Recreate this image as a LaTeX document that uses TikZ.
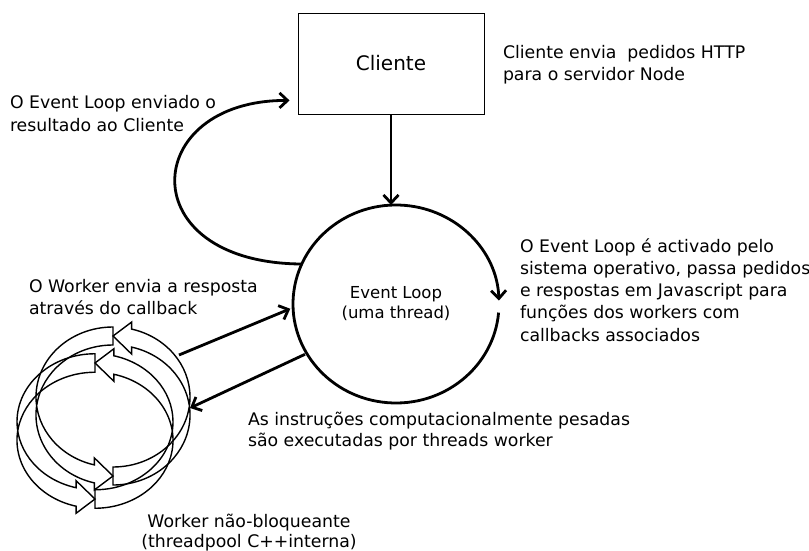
\documentclass[tikz,border=0pt]{standalone}
\usepackage{fontspec}
\setmainfont{DejaVu Sans}
\usetikzlibrary{arrows.meta,shapes.geometric,calc}

% one worker ring: two ribbon arrows running round an ellipse
% #1,#2 centre; #3,#4 radii; #5 ribbon height
\newcommand{\workerring}[5]{%
  \begin{scope}[shift={(#1,#2)}]
    \pgfmathsetmacro\hh{#5/2}
    \pgfmathsetmacro\hx{#3*cos(76)}
    \pgfmathsetmacro\hy{#4*sin(76)}
    % rising half on the right, head at the top
    \draw[ribbon] (0,\hh-#4)
      arc[start angle=-90,end angle=76,x radius=#3,y radius=#4]
      -- ++(0,7) -- (0,#4) -- (\hx,\hy-\hh-7) -- ++(0,7)
      arc[start angle=76,end angle=-90,x radius=#3,y radius=#4] -- cycle;
    % falling half on the left, head at the bottom
    \draw[ribbon] (0,\hh+#4)
      arc[start angle=90,end angle=256,x radius=#3,y radius=#4]
      -- ++(0,7) -- (0,-#4) -- (-\hx,-\hy-\hh-7) -- ++(0,7)
      arc[start angle=256,end angle=90,x radius=#3,y radius=#4] -- cycle;
  \end{scope}}

\begin{document}
\begin{tikzpicture}[x=1pt,y=1pt,
  lbl/.style={font=\fontsize{17.3}{22}\selectfont, inner sep=0, outer sep=0},
  flow/.style={line width=2.8pt, -{Straight Barb[length=8pt,width=15pt]}},
  ribbon/.style={line width=1.4pt, line join=miter},
]
\useasboundingbox (0,0) rectangle (809,-551);

% client box and event loop
\node[draw, line width=0.9pt, minimum width=186, minimum height=101, inner sep=0,
      font=\fontsize{20}{24}\selectfont] (cliente) at (391,-63.5) {Cliente};
\node[ellipse, minimum width=206, minimum height=198, inner sep=0, outer sep=0,
      align=center, font=\fontsize{16.5}{20}\selectfont] (loop) at (396,-304)
      {Event Loop\\(uma thread)};

% the loop itself, broken on the right where the head sits
\draw[flow] ($(loop.center)+({103*cos(-5)},{99*sin(-5)})$)
  arc[start angle=-5, end angle=-358, x radius=103, y radius=99];

% request from the client
\draw[flow] (cliente.south) -- (cliente.south |- loop.north);

% response back to the client
\draw[flow] (loop.157) .. controls (130,-263) and (140,-100) ..
  ([shift={(-8,14)}]cliente.south west);

% worker pool
\workerring{113}{-406}{77}{70}{18}
\workerring{95}{-431}{78}{68}{18.5}
\coordinate (wout) at (179,-355);
\coordinate (win) at (190,-408);
\draw[flow, shorten >=3pt] (wout) -- (loop.182);
\draw[flow, shorten <=2pt] (loop.209) -- (win);

% labels (anchored on the baseline of their last line)
\node[lbl, anchor=base west, align=left] (t1) at (503,-81)
  {Cliente envia\ \ pedidos HTTP\\para o servidor Node};
\node[lbl, anchor=base west, align=left] (t2) at (10,-131)
  {O Event Loop enviado o\\resultado ao Cliente};
\node[lbl, anchor=base west, align=left, font=\fontsize{17.3}{22.2}\selectfont] (t3) at (520,-341)
  {O Event Loop é activado pelo\\sistema operativo, passa pedidos\\e respostas em Javascript para\\funções dos workers com\\callbacks associados};
\node[lbl, anchor=base west, align=left, font=\fontsize{17.3}{21.5}\selectfont] (t4) at (29,-314)
  {O Worker envia a resposta\\através do callback};
\node[lbl, anchor=base west, align=left, font=\fontsize{17.3}{21}\selectfont] (t5) at (248,-446)
  {As instruções computacionalmente pesadas\\são executadas por threads worker};
\node[lbl, anchor=base, align=center, font=\fontsize{17.3}{19.5}\selectfont] (t6) at (249,-547)
  {Worker não-bloqueante\\(threadpool C++interna)};
\end{tikzpicture}
\end{document}
